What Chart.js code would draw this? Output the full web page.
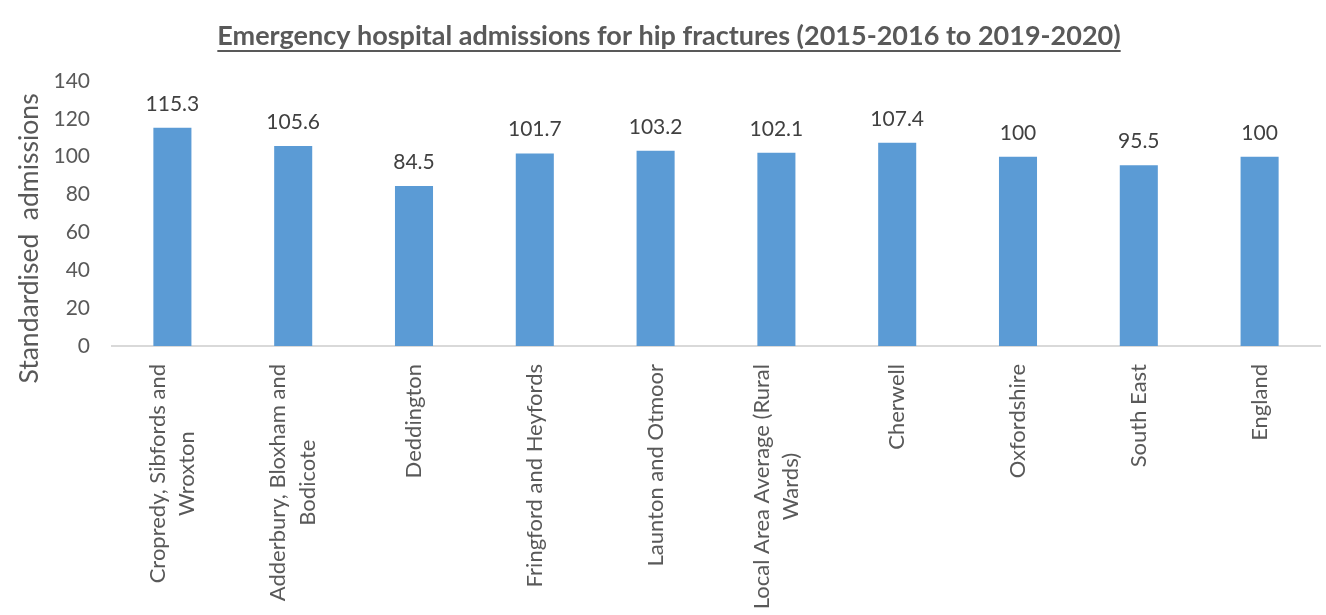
<!DOCTYPE html>
<html>
<head>
<meta charset="utf-8">
<script src="https://cdn.jsdelivr.net/npm/chart.js@4.4.1/dist/chart.umd.min.js"></script>
<style>
  html, body { margin: 0; padding: 0; background: #ffffff; }
  #wrap { width: 1326px; height: 615px; position: relative; }
</style>
</head>
<body>
<div id="wrap"><canvas id="chart" width="1326" height="615"></canvas></div>
<script>
// Ward and area names (multi-line where the label wraps)
const categories = [
  ["Cropredy, Sibfords and", "Wroxton"],
  ["Adderbury, Bloxham and", "Bodicote"],
  "Deddington",
  "Fringford and Heyfords",
  "Launton and Otmoor",
  ["Local Area Average (Rural", "Wards)"],
  "Cherwell",
  "Oxfordshire",
  "South East",
  "England"
];

// Standardised admission ratios
const admissions = [115.3, 105.6, 84.5, 101.7, 103.2, 102.1, 107.4, 100, 95.5, 100];

// Y axis tick values
const yTicks = [0, 20, 40, 60, 80, 100, 120, 140];

const TITLE = "Emergency hospital admissions for hip fractures (2015-2016 to 2019-2020)";
const Y_TITLE = "Standardised  admissions";

const FONT = "Lato, 'Open Sans', sans-serif";
const TEXT = "#595959";
const X_FONT_SIZE = 22;
const X_LINE_HEIGHT = 1.36;

// Value labels drawn above each bar
const valueLabels = {
  id: "valueLabels",
  afterDatasetsDraw(chart) {
    const { ctx } = chart;
    const meta = chart.getDatasetMeta(0);
    ctx.save();
    ctx.font = "21px " + FONT;
    ctx.fillStyle = "#404040";
    ctx.textAlign = "center";
    ctx.textBaseline = "alphabetic";
    meta.data.forEach((bar, i) => {
      ctx.fillText(String(admissions[i]), bar.x, bar.y - 17);
    });
    ctx.restore();
  }
};

// Underlined chart title and the vertical axis caption
const annotations = {
  id: "annotations",
  afterDraw(chart) {
    const { ctx } = chart;
    ctx.save();
    ctx.font = "bold 27px " + FONT;
    ctx.fillStyle = TEXT;
    ctx.textAlign = "center";
    ctx.textBaseline = "middle";
    const cx = 669;
    ctx.fillText(TITLE, cx, 36);
    const w = ctx.measureText(TITLE).width;
    ctx.strokeStyle = TEXT;
    ctx.lineWidth = 2;
    ctx.beginPath();
    ctx.moveTo(cx - w / 2, 51);
    ctx.lineTo(cx + w / 2, 51);
    ctx.stroke();

    const yScale = chart.scales.y;
    ctx.translate(29, (yScale.top + yScale.bottom) / 2 + 25);
    ctx.rotate(-Math.PI / 2);
    ctx.font = "26.5px " + FONT;
    ctx.fillText(Y_TITLE, 0, 0);
    ctx.restore();
  }
};

new Chart(document.getElementById("chart"), {
  type: "bar",
  data: {
    labels: categories,
    datasets: [{
      data: admissions,
      backgroundColor: "#5B9BD5",
      borderWidth: 0,
      barPercentage: 0.315,
      categoryPercentage: 1.0
    }]
  },
  options: {
    responsive: false,
    animation: false,
    layout: { padding: { left: 0, right: 6, top: 81, bottom: 0 } },
    plugins: {
      legend: { display: false },
      tooltip: { enabled: false },
      title: { display: false }
    },
    scales: {
      x: {
        grid: { display: false, drawTicks: false },
        border: { display: true, color: "#D9D9D9", width: 2 },
        ticks: {
          color: TEXT,
          font: { family: FONT, size: X_FONT_SIZE, lineHeight: X_LINE_HEIGHT },
          minRotation: 90,
          maxRotation: 90,
          autoSkip: false,
          padding: 18
        },
        afterFit(scale) {
          scale.height = 269;
          // wrapped labels: lines centred on each other and on the category
          if (!scale._centredLines) {
            const compute = scale._computeLabelItems;
            scale._computeLabelItems = function (area) {
              const items = compute.call(this, area);
              const lh = X_FONT_SIZE * X_LINE_HEIGHT;
              const ctx = this.ctx;
              const out = [];
              items.forEach(item => {
                if (!Array.isArray(item.label) || item.label.length < 2) {
                  out.push(item);
                  return;
                }
                const lines = item.label;
                ctx.save();
                ctx.font = item.font.string;
                const maxW = Math.max(...lines.map(l => ctx.measureText(l).width));
                ctx.restore();
                const [x0, y0] = item.options.translation;
                lines.forEach((line, i) => {
                  out.push({
                    label: line,
                    font: item.font,
                    textOffset: item.textOffset,
                    options: Object.assign({}, item.options, {
                      textAlign: "center",
                      translation: [x0 + i * lh - (lines.length - 1) * lh / 2, y0 + maxW / 2]
                    })
                  });
                });
              });
              return out;
            };
            scale._centredLines = true;
          }
        }
      },
      y: {
        min: 0,
        max: 140,
        grid: { display: false, drawTicks: false },
        border: { display: false },
        afterBuildTicks(scale) { scale.ticks = yTicks.map(v => ({ value: v })); },
        ticks: {
          color: TEXT,
          font: { family: FONT, size: 21 },
          padding: 22
        },
        afterFit(scale) { scale.width = 112; }
      }
    }
  },
  plugins: [valueLabels, annotations]
});
</script>
</body>
</html>
